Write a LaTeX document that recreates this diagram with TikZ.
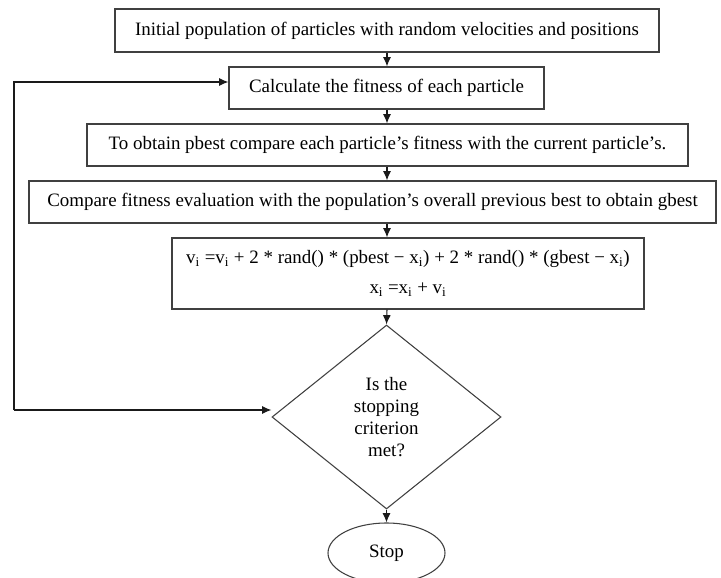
\documentclass[tikz,border=0pt]{standalone}
\usepackage{fontspec}
\setmainfont{Liberation Serif}
\usepackage{tikz}
\usetikzlibrary{shapes.geometric, arrows.meta}
\definecolor{line_grey}{HTML}{404040}
\definecolor{arrow_grey}{HTML}{1A1A1A}

\tikzset{
	stepbox/.style={draw=line_grey, line width=0.8pt, inner sep=0pt, align=center, font=\fontsize{14.2}{17}\selectfont},
	decision/.style={diamond, draw=line_grey, line width=0.8pt, inner sep=0pt, align=center, font=\fontsize{14.2}{16.7}\selectfont},
	terminal/.style={ellipse, draw=line_grey, line width=0.8pt, inner sep=0pt, font=\fontsize{14.2}{17}\selectfont},
	arrow/.style={draw=arrow_grey, line width=0.8pt, -{Latex[length=7pt, width=6pt]}}
}

\begin{document}
\begin{tikzpicture}[x=0.75pt, y=-0.75pt]
	\useasboundingbox (0, 0) rectangle (721, 578);
	\node[stepbox, minimum width=544*0.75pt, minimum height=43*0.75pt] (init) at (387, 30.5) {Initial population of particles with random velocities and positions};
	\node[stepbox, minimum width=315*0.75pt, minimum height=42*0.75pt] (fit) at (386.5, 88) {Calculate the fitness of each particle};
	\node[stepbox, minimum width=601*0.75pt, minimum height=42*0.75pt] (pb) at (387.5, 145) {To obtain pbest compare each particle’s  fitness with the current particle’s.};
	\node[stepbox, minimum width=687*0.75pt, minimum height=42*0.75pt] (gb) at (372.5, 202) {Compare fitness evaluation with the population’s overall previous best to obtain gbest};
	\node[stepbox, minimum width=472*0.75pt, minimum height=71*0.75pt, font=\fontsize{14.2}{22}\selectfont] (upd) at (408, 273.5) {v\textsubscript{i} =v\textsubscript{i} + 2 * rand() * (pbest − x\textsubscript{i}) + 2 * rand() * (gbest − x\textsubscript{i})\\ x\textsubscript{i} =x\textsubscript{i} + v\textsubscript{i}};
	\node[decision, minimum width=229*0.75pt, minimum height=184*0.75pt] (dec) at (386.5, 417) {Is the\\ stopping\\ criterion\\ met?};
	\node[terminal, minimum width=117*0.75pt, minimum height=60*0.75pt] (stop) at (386.5, 553) {Stop};
	\coordinate (loopbot) at (14, 410);
	\coordinate (looptop) at (14, 82);
	% main flow
	\draw[arrow] (init.south) -- (fit.north -| init.south);
	\draw[arrow] (fit.south -| init.south) -- (pb.north -| init.south);
	\draw[arrow] (pb.south -| init.south) -- (gb.north -| init.south);
	\draw[arrow] (gb.south -| init.south) -- (upd.north -| init.south);
	\draw[arrow] (upd.south -| init.south) -- (dec.north);
	\draw[arrow] (dec.south) -- (stop.north);
	% loop back
	\draw[arrow] (loopbot) -- (loopbot -| dec.west);
	\draw[arrow] (loopbot) -- (looptop) -- (looptop -| fit.west);
\end{tikzpicture}
\end{document}
